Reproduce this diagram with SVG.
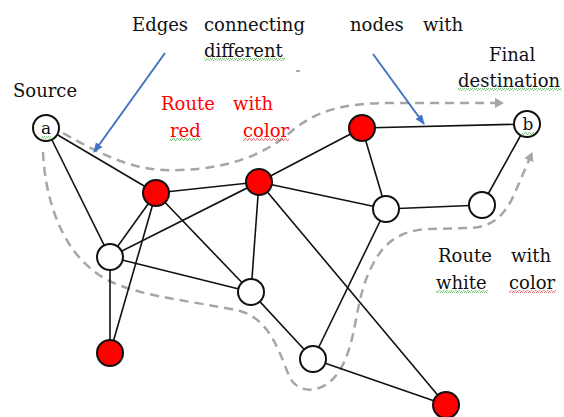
<svg xmlns="http://www.w3.org/2000/svg" width="564" height="417" viewBox="0 0 564 417">
<style>
text{font-family:"DejaVu Serif","Liberation Serif",serif;font-size:18px;fill:#111}
.red{fill:#ff0000}
.edge{stroke:#111;stroke-width:1.6;fill:none}
.node{stroke:#111;stroke-width:2}
.rn{fill:#ff0000}
.wn{fill:#fff}
.route{stroke:#a6a6a6;stroke-width:2.5;fill:none;stroke-dasharray:9 6}
.blue{stroke:#4472c4;stroke-width:2;fill:none}
.lbl{font-size:17px;text-anchor:middle}
</style>
<defs>
<marker id="garr" markerWidth="10" markerHeight="10" refX="8" refY="5" orient="auto" markerUnits="userSpaceOnUse">
<path d="M0,0 L9,5 L0,10 Z" fill="#a6a6a6"/>
</marker>
<marker id="barr" markerWidth="10" markerHeight="10" refX="9" refY="5" orient="auto" markerUnits="userSpaceOnUse">
<path d="M0,1 L10,5 L0,9 Z" fill="#4472c4"/>
</marker>
<pattern id="gw" width="4" height="3" patternUnits="userSpaceOnUse">
<path d="M0,2.5 L1,0.5 L2,0.5 L3,2.5 L4,2.5" stroke="#5cb85c" stroke-width="0.8" fill="none"/>
</pattern>
<pattern id="rw" width="4" height="3" patternUnits="userSpaceOnUse">
<path d="M0,2.5 L1,0.5 L2,0.5 L3,2.5 L4,2.5" stroke="#e05a5a" stroke-width="0.8" fill="none"/>
</pattern>
</defs>

<g id="routes">
<path class="route" d="M63,133 C110,160 140,172 180,170 C235,168 268,152 293,130 C318,110 345,103 390,103 L503,103" marker-end="url(#garr)"/>
<path class="route" d="M43,152 C45,200 62,248 95,272 C125,296 190,300 240,311 C272,320 281,358 290,378 C300,396 326,393 340,370 C358,340 354,300 372,266 C384,242 400,230 430,229 L470,228 C494,227 505,214 514,195 L532,153" marker-end="url(#garr)"/>
</g>

<g id="connectors">
<line class="edge" x1="46" y1="128" x2="156" y2="193"/>
<line class="edge" x1="46" y1="128" x2="110" y2="257"/>
<line class="edge" x1="156" y1="193" x2="259" y2="182"/>
<line class="edge" x1="156" y1="193" x2="110" y2="257"/>
<line class="edge" x1="156" y1="193" x2="110" y2="353"/>
<line class="edge" x1="156" y1="193" x2="251" y2="292"/>
<line class="edge" x1="259" y1="182" x2="110" y2="257"/>
<line class="edge" x1="259" y1="182" x2="362" y2="128"/>
<line class="edge" x1="259" y1="182" x2="251" y2="292"/>
<line class="edge" x1="259" y1="182" x2="386" y2="209"/>
<line class="edge" x1="259" y1="182" x2="446" y2="405"/>
<line class="edge" x1="362" y1="128" x2="527" y2="124"/>
<line class="edge" x1="362" y1="128" x2="386" y2="209"/>
<line class="edge" x1="386" y1="209" x2="482" y2="205"/>
<line class="edge" x1="482" y1="205" x2="527" y2="124"/>
<line class="edge" x1="386" y1="209" x2="313" y2="359"/>
<line class="edge" x1="110" y1="257" x2="251" y2="292"/>
<line class="edge" x1="110" y1="257" x2="110" y2="353"/>
<line class="edge" x1="251" y1="292" x2="313" y2="359"/>
<line class="edge" x1="313" y1="359" x2="446" y2="405"/>
</g>

<g id="pointers">
<line class="blue" x1="165" y1="53" x2="94" y2="152" marker-end="url(#barr)"/>
<line class="blue" x1="373" y1="54" x2="424" y2="124" marker-end="url(#barr)"/>
<line x1="296" y1="71" x2="300" y2="71" stroke="#556" stroke-width="1"/>
</g>

<g id="node-a"><circle class="node wn" cx="46" cy="128" r="13"/><text class="lbl" x="46" y="134">a</text></g>
<g id="node-b"><circle class="node wn" cx="527" cy="124" r="13"/><text class="lbl" x="528" y="130">b</text></g>
<g id="node-r1"><circle class="node rn" cx="156" cy="193" r="13"/></g>
<g id="node-r2"><circle class="node rn" cx="259" cy="182" r="13"/></g>
<g id="node-rt"><circle class="node rn" cx="362" cy="128" r="13"/></g>
<g id="node-wl"><circle class="node wn" cx="110" cy="257" r="13"/></g>
<g id="node-wm"><circle class="node wn" cx="251" cy="292" r="13"/></g>
<g id="node-rbl"><circle class="node rn" cx="110" cy="353" r="13"/></g>
<g id="node-wrm"><circle class="node wn" cx="386" cy="209" r="13"/></g>
<g id="node-wr"><circle class="node wn" cx="482" cy="205" r="13"/></g>
<g id="node-wb"><circle class="node wn" cx="313" cy="359" r="13"/></g>
<g id="node-rbr"><circle class="node rn" cx="446" cy="405" r="13"/></g>

<g id="labels">
<text y="31"><tspan x="132">Edges</tspan><tspan x="204">connecting</tspan><tspan x="350">nodes</tspan><tspan x="423">with</tspan></text>
<text x="204" y="57">different</text>
<text x="13" y="97">Source</text>
<text class="red" y="110"><tspan x="161">Route</tspan><tspan x="233">with</tspan></text>
<text class="red" y="137"><tspan x="170">red</tspan><tspan x="243">color</tspan></text>
<text x="489" y="61">Final</text>
<text x="458" y="87">destination</text>
<text y="262"><tspan x="438">Route</tspan><tspan x="511">with</tspan></text>
<text y="289"><tspan x="436">white</tspan><tspan x="509">color</tspan></text>
</g>

<g id="spellmarks">
<rect x="204" y="58" width="81" height="3" fill="url(#gw)"/>
<rect x="170" y="138" width="32" height="3" fill="url(#gw)"/>
<rect x="243" y="138" width="46" height="3" fill="url(#rw)"/>
<rect x="458" y="88" width="104" height="3" fill="url(#gw)"/>
<rect x="436" y="290" width="52" height="3" fill="url(#gw)"/>
<rect x="509" y="290" width="47" height="3" fill="url(#rw)"/>
<rect x="522" y="132" width="12" height="3" fill="url(#gw)"/>
<rect x="42" y="136" width="9" height="3" fill="url(#gw)"/>
</g>
</svg>
